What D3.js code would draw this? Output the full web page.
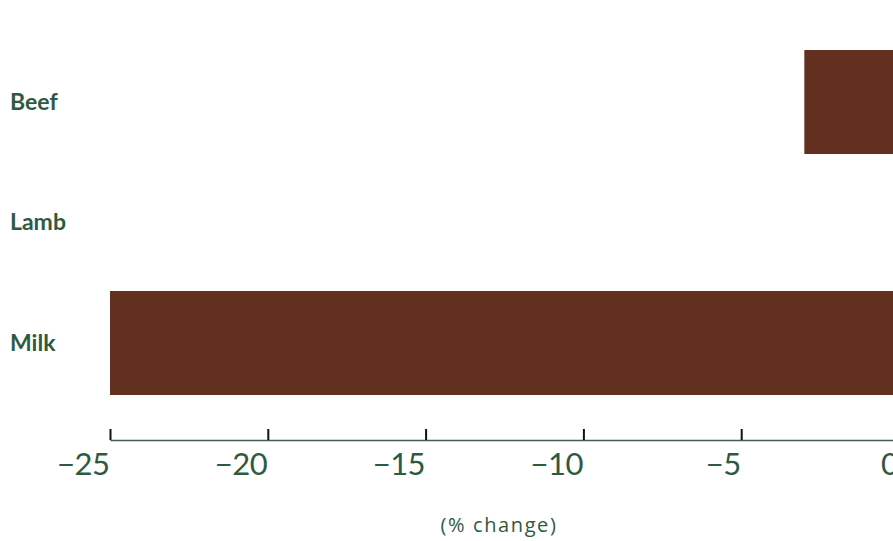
<!DOCTYPE html>
<html><head><meta charset="utf-8">
<script src="https://cdn.jsdelivr.net/npm/d3@7"></script>
<style>body{margin:0;background:#fff}svg{display:block}</style>
</head><body>
<svg id="c" width="893" height="541"></svg>
<script>
const categories = ["Beef", "Lamb", "Milk"];
const values = [-3.0, 0, -25.0];
const ticks = [-25, -20, -15, -10, -5, 0];
const axisTitle = "(% change)";

const svg = d3.select("#c");
const green = "#2f5a42";
const barColor = "#632f1f";

const x = d3.scaleLinear().domain([-25, 0]).range([110, 899]);
const y = d3.scaleBand().domain(categories).range([33.5, 411.5]).padding(0.137);

svg.selectAll("rect.bar").data(categories).join("rect")
  .attr("class", "bar")
  .attr("x", (d, i) => x(Math.min(0, values[i])))
  .attr("width", (d, i) => Math.abs(x(values[i]) - x(0)))
  .attr("y", d => y(d))
  .attr("height", y.bandwidth())
  .attr("fill", barColor);

svg.selectAll("text.cat").data(categories).join("text")
  .attr("class", "cat")
  .attr("x", 10)
  .attr("y", d => y(d) + y.bandwidth() / 2)
  .attr("dy", "0.33em")
  .attr("fill", green)
  .attr("font-family", "Lato, 'Noto Sans', sans-serif")
  .attr("font-weight", "bold")
  .attr("font-size", 23)
  .text(d => d);

const axis = d3.axisBottom(x).tickValues(ticks).tickSize(0).tickPadding(0);
const g = svg.append("g").attr("transform", "translate(0,440)").call(axis);
g.select(".domain").attr("stroke", "#3d5f4c").attr("stroke-width", 1.5);
g.selectAll(".tick").append("line")
  .attr("y1", -11).attr("y2", 0)
  .attr("stroke", "#111").attr("stroke-width", 2);
g.selectAll(".tick text")
  .attr("fill", green)
  .attr("font-family", "Lato, 'Noto Sans', sans-serif")
  .attr("font-size", 31)
  .attr("letter-spacing", -0.5)
  .attr("text-anchor", "end")
  .attr("x", -1)
  .attr("y", 35)
  .attr("dy", null);

svg.append("text")
  .attr("x", 499).attr("y", 532)
  .attr("text-anchor", "middle")
  .attr("fill", green)
  .attr("font-family", "'Open Sans', 'Noto Sans', sans-serif")
  .attr("font-size", 20)
  .attr("letter-spacing", 1.6)
  .text(axisTitle);
</script>
</body></html>
